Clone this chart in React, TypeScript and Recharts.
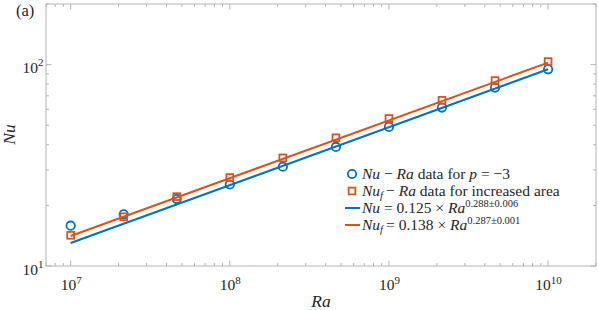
import { ScatterChart, Scatter, XAxis, YAxis } from 'recharts'

const raValues = [1e7, 2.154e7, 4.642e7, 1e8, 2.154e8, 4.642e8, 1e9, 2.154e9, 4.642e9, 1e10]
const nuValues = [15.85, 18.05, 21.5, 25.4, 31.1, 39.0, 49.05, 61.2, 76.9, 94.8]
const nufValues = [14.2, 17.56, 22.1, 27.5, 34.4, 43.3, 54.0, 66.5, 83.3, 103.5]
const fitRa = [1e7, 1e10]
const nuFit = [13.0, 94.8]
const nufFit = [14.1, 102.3]

const xTicks = [7e6, 8e6, 9e6,
  1e7, 2e7, 3e7, 4e7, 5e7, 6e7, 7e7, 8e7, 9e7,
  1e8, 2e8, 3e8, 4e8, 5e8, 6e8, 7e8, 8e8, 9e8,
  1e9, 2e9, 3e9, 4e9, 5e9, 6e9, 7e9, 8e9, 9e9,
  1e10, 2e10]
const yTicks = [10, 20, 30, 40, 50, 60, 70, 80, 90, 100, 200]

const BLUE = '#0072BD'
const ORANGE = '#D95319'
const AXIS = '#b4b4b4'
const TXT = '#262626'
const FONT = "'Liberation Serif', 'DejaVu Serif', serif"
const serif = { fontFamily: FONT }
const it = { fontFamily: FONT, fontStyle: 'italic' as const }

const toPts = (xs: number[], ys: number[]) => xs.map((x, i) => ({ x, y: ys[i] }))
const nuPts = toPts(raValues, nuValues)
const nufPts = toPts(raValues, nufValues)
const nuFitPts = toPts(fitRa, nuFit)
const nufFitPts = toPts(fitRa, nufFit)

const isMajor = (v: number) => Math.abs(Math.log10(v) - Math.round(Math.log10(v))) < 1e-9

function makeTick(side: 'bottom' | 'top' | 'left' | 'right') {
  return (props: any) => {
    const { x, y, payload } = props
    const v = payload.value
    const major = isMajor(v)
    const len = major ? 5.5 : 3
    let line
    if (side === 'bottom') line = <line x1={x} x2={x} y1={y} y2={y - len} stroke={AXIS} />
    else if (side === 'top') line = <line x1={x} x2={x} y1={y} y2={y + len} stroke={AXIS} />
    else if (side === 'left') line = <line x1={x} x2={x + len} y1={y} y2={y} stroke={AXIS} />
    else line = <line x1={x} x2={x - len} y1={y} y2={y} stroke={AXIS} />
    const exp = Math.round(Math.log10(v))
    let label = null
    if (major && side === 'bottom') {
      label = (
        <text x={x + 0.5} y={y + 23.5} textAnchor='middle' style={serif} fontSize={15.5} fill={TXT}>
          <tspan>10</tspan><tspan dy={-6} fontSize={11}>{exp}</tspan>
        </text>
      )
    } else if (major && side === 'left') {
      label = (
        <text x={x - 2.5} y={y + 8.5} textAnchor='end' style={serif} fontSize={15.5} fill={TXT}>
          <tspan>10</tspan><tspan dy={-7} fontSize={11}>{exp}</tspan>
        </text>
      )
    }
    return <g>{line}{label}</g>
  }
}

const Circle = (p: any) => (
  <circle cx={p.cx} cy={p.cy} r={4.2} fill='none' stroke={BLUE} strokeWidth={1.8} />
)
const Square = (p: any) => (
  <rect x={p.cx - 3.4} y={p.cy - 3.4} width={6.8} height={6.8} fill='none' stroke={ORANGE} strokeWidth={1.8} />
)
const NoMark = () => <g />

function Overlay() {
  return (
    <svg width={598} height={310} style={{ position: 'absolute', left: 0, top: 0, pointerEvents: 'none' }}
      fill={TXT}>
      <text x={16} y={16} fontSize={16.5} style={serif}>(a)</text>
      <text x={14.5} y={134.5} fontSize={17.5} style={it} textAnchor='middle' transform='rotate(-90 14.5 134.5)'>Nu</text>
      <text x={321} y={307} fontSize={17.5} style={it} textAnchor='middle'>Ra</text>
      <g fontSize={15.5} style={serif}>
        <circle cx={352} cy={174} r={4.2} fill='none' stroke={BLUE} strokeWidth={1.8} />
        <text x={362} y={179} style={serif}>
          <tspan style={it}>Nu</tspan><tspan> − </tspan><tspan style={it}>Ra</tspan>
          <tspan> data for </tspan><tspan style={it}>p</tspan><tspan> = −3</tspan>
        </text>
        <rect x={348.6} y={187.6} width={6.8} height={6.8} fill='none' stroke={ORANGE} strokeWidth={1.8} />
        <text x={362} y={196} style={serif}>
          <tspan style={it}>Nu</tspan><tspan style={it} fontSize={10.5} dy={2.5}>f</tspan>
          <tspan dy={-2.5}>{'\u2009− '}</tspan><tspan style={it}>Ra</tspan>
          <tspan> data for increased area</tspan>
        </text>
        <line x1={345} x2={360} y1={208} y2={208} stroke={BLUE} strokeWidth={2} />
        <text x={362} y={213} style={serif}>
          <tspan style={it}>Nu</tspan><tspan> = 0.125 × </tspan><tspan style={it}>Ra</tspan>
          <tspan fontSize={10.5} dy={-6}>0.288±0.006</tspan>
        </text>
        <line x1={345} x2={360} y1={225} y2={225} stroke={ORANGE} strokeWidth={2} />
        <text x={362} y={230} style={serif}>
          <tspan style={it}>Nu</tspan><tspan style={it} fontSize={10.5} dy={2.5}>f</tspan>
          <tspan dy={-2.5}>{'\u2009= 0.138 × '}</tspan><tspan style={it}>Ra</tspan>
          <tspan fontSize={10.5} dy={-6}>0.287±0.001</tspan>
        </text>
      </g>
    </svg>
  )
}

export default function App() {
  return (
    <div style={{ position: 'absolute', left: 0, top: 0, width: 598, height: 310, background: 'white' }}>
      <ScatterChart width={598} height={310} margin={{ top: 0, right: 0, bottom: 0, left: 0 }}>
        <XAxis xAxisId='b' dataKey='x' type='number' scale='log' domain={[7e6, 2e10]} allowDataOverflow
          ticks={xTicks} interval={0} orientation='bottom' height={44} tickSize={0} tickMargin={0}
          tickLine={false} axisLine={{ stroke: AXIS }} tick={makeTick('bottom')} />
        <XAxis xAxisId='t' dataKey='x' type='number' scale='log' domain={[7e6, 2e10]} allowDataOverflow
          ticks={xTicks} interval={0} orientation='top' height={4} tickSize={0} tickMargin={0}
          tickLine={false} axisLine={{ stroke: AXIS }} tick={makeTick('top')} />
        <YAxis yAxisId='l' dataKey='y' type='number' scale='log' domain={[10, 200]} allowDataOverflow
          ticks={yTicks} interval={0} orientation='left' width={46} tickSize={0} tickMargin={0}
          tickLine={false} axisLine={{ stroke: AXIS }} tick={makeTick('left')} />
        <YAxis yAxisId='r' dataKey='y' type='number' scale='log' domain={[10, 200]} allowDataOverflow
          ticks={yTicks} interval={0} orientation='right' width={2} tickSize={0} tickMargin={0}
          tickLine={false} axisLine={{ stroke: AXIS }} tick={makeTick('right')} />
        <Scatter xAxisId='b' yAxisId='l' data={nuPts} shape={Circle} isAnimationActive={false} />
        <Scatter xAxisId='b' yAxisId='l' data={nufPts} shape={Square} isAnimationActive={false} />
        <Scatter xAxisId='b' yAxisId='l' data={nuFitPts} shape={NoMark} line={{ stroke: BLUE, strokeWidth: 2 }}
          isAnimationActive={false} />
        <Scatter xAxisId='b' yAxisId='l' data={nufFitPts} shape={NoMark} line={{ stroke: ORANGE, strokeWidth: 2 }}
          isAnimationActive={false} />
      </ScatterChart>
      <Overlay />
    </div>
  )
}
